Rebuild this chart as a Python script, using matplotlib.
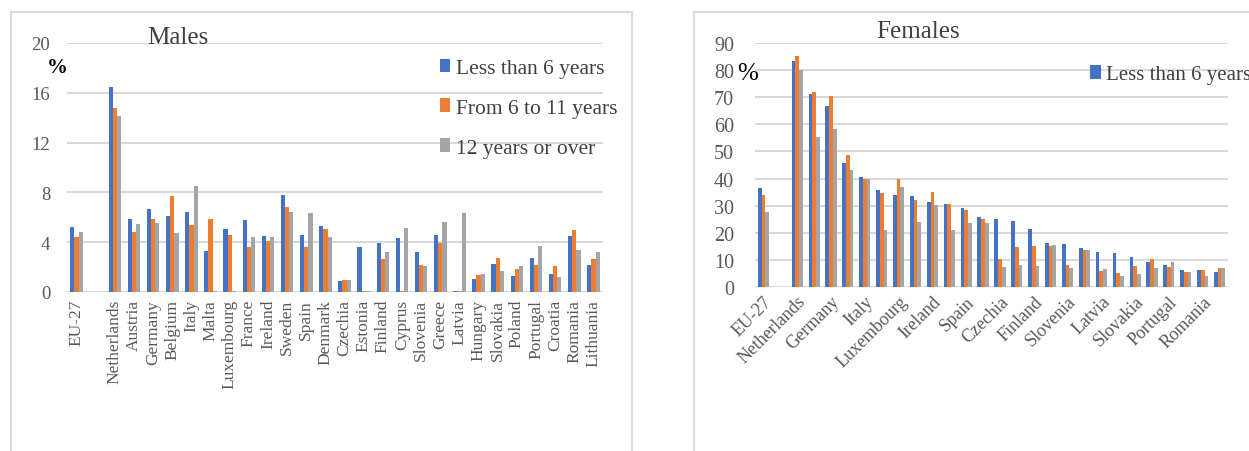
import matplotlib
matplotlib.use("Agg")
import matplotlib.pyplot as plt
import numpy as np
from matplotlib.patches import Rectangle

plt.rcParams['font.family'] = ['Liberation Serif', 'DejaVu Serif']

categories = ["EU-27", "", "Netherlands", "Austria", "Germany", "Belgium", "Italy", "Malta",
              "Luxembourg", "France", "Ireland", "Sweden", "Spain", "Denmark", "Czechia",
              "Estonia", "Finland", "Cyprus", "Slovenia", "Greece", "Latvia", "Hungary",
              "Slovakia", "Poland", "Portugal", "Croatia", "Romania", "Lithuania"]
series = ["Less than 6 years", "From 6 to 11 years", "12 years or over"]

males_lt6 = [5.2, np.nan, 16.5, 5.9, 6.7, 6.1, 6.4, 3.3, 5.1, 5.8, 4.5, 7.8, 4.6, 5.3, 0.85,
             3.6, 3.95, 4.35, 3.25, 4.6, 0.05, 1.07, 2.24, 1.25, 2.72, 1.47, 4.53, 2.16]
males_6to11 = [4.4, np.nan, 14.8, 4.8, 5.9, 7.7, 5.4, 5.9, 4.6, 3.6, 4.1, 6.8, 3.6, 5.1, 0.96,
               0.05, 2.67, 0.05, 2.16, 3.95, 0.05, 1.33, 2.72, 1.87, 2.13, 2.05, 4.96, 2.67]
males_12 = [4.85, np.nan, 14.1, 5.45, 5.55, 4.7, 8.5, 0.05, 0.05, 4.43, 4.43, 6.45, 6.35, 4.43,
            0.96, 0.05, 3.25, 5.15, 2.05, 5.65, 6.35, 1.44, 1.65, 2.05, 3.73, 1.17, 3.36, 3.25]

females_lt6 = [36.5, np.nan, 83.4, 71.1, 66.6, 45.8, 40.4, 35.8, 33.9, 33.7, 31.4, 30.7, 29.2,
               25.9, 25.1, 24.3, 21.4, 16.4, 16.0, 14.4, 12.8, 12.6, 11.1, 9.4, 8.1, 6.4, 6.2, 5.7]
females_6to11 = [33.9, np.nan, 85.1, 72.0, 70.4, 48.8, 39.9, 34.7, 39.8, 32.0, 35.2, 30.5, 28.3,
                 25.2, 10.3, 14.8, 15.1, 15.3, 8.1, 13.7, 5.8, 5.0, 7.8, 10.5, 7.5, 5.5, 6.2, 7.1]
females_12 = [27.5, np.nan, 80.2, 55.5, 58.3, 43.3, 39.8, 21.2, 36.8, 24.0, 30.2, 21.1, 23.5,
              23.5, 7.4, 8.1, 7.6, 15.4, 7.1, 13.7, 6.5, 4.2, 4.7, 6.9, 9.4, 5.5, 4.1, 7.1]

females_tick_labels = [c if i % 2 == 0 else "" for i, c in enumerate(categories)]

colors = ["#4472C4", "#ED7D31", "#A5A5A5"]
grid_c = "#D9D9D9"
tick_c = "#595959"

W, H = 1249, 452
fig = plt.figure(figsize=(W / 100, H / 100), dpi=100)

def fx(px):
    return px / W

def fy(py):
    return 1 - py / H

# panel frames
fig.patches.append(Rectangle((fx(11), fy(470)), fx(632) - fx(11), fy(13) - fy(470),
                             transform=fig.transFigure, fill=False, ec=grid_c, lw=1.5))
fig.patches.append(Rectangle((fx(694), fy(470)), fx(1300) - fx(694), fy(13) - fy(470),
                             transform=fig.transFigure, fill=False, ec=grid_c, lw=1.5))

x = np.arange(len(categories))
bw = 0.22

def draw(ax, data, yticks, ymax):
    handles = []
    for k, (vals, c) in enumerate(zip(data, colors)):
        h = ax.bar(x + (k - 1) * bw, vals, width=bw, color=c, label=series[k], zorder=3)
        handles.append(h)
    ax.set_xlim(-0.5, len(categories) - 0.5)
    ax.set_ylim(0, ymax)
    ax.set_yticks(yticks)
    ax.grid(axis='y', color=grid_c, lw=1.5, zorder=0)
    ax.set_axisbelow(True)
    for s in ax.spines.values():
        s.set_visible(False)
    ax.tick_params(length=0, colors=tick_c)
    return handles

# Males
ax1 = fig.add_axes([fx(67), fy(293), fx(603) - fx(67), fy(44) - fy(293)])
h1 = draw(ax1, [males_lt6, males_6to11, males_12], np.arange(0, 21, 4), 20)
ax1.set_xticks(x)
ax1.set_xticklabels(categories, rotation=90, fontsize=12.5, color=tick_c)
ax1.tick_params(axis='x', pad=5)
ax1.tick_params(axis='y', labelsize=13.5, pad=12)
fig.text(fx(178), fy(38), "Males", fontsize=18, color="#404040", ha='center', va='center')
fig.text(fx(57), fy(68), "%", fontsize=15, fontweight='bold', color='black', ha='center', va='center')
ax1.legend(handles=h1, loc='upper left', bbox_to_anchor=(fx(431), fy(51)),
           bbox_transform=fig.transFigure, frameon=False, fontsize=15.5,
           labelspacing=0.95, handlelength=0.5, handleheight=0.6, handletextpad=0.25,
           labelcolor="#404040", borderaxespad=0)

# Females
ax2 = fig.add_axes([fx(755), fy(288), fx(1228) - fx(755), fy(44) - fy(288)])
h2 = draw(ax2, [females_lt6, females_6to11, females_12], np.arange(0, 91, 10), 90)
ax2.set_xticks(x)
ax2.set_xticklabels(females_tick_labels, rotation=45, ha='right', rotation_mode='anchor',
                    fontsize=13, color=tick_c)
ax2.tick_params(axis='x', pad=4)
ax2.tick_params(axis='y', labelsize=14.5, pad=15)
fig.text(fx(918), fy(32), "Females", fontsize=18, color="#404040", ha='center', va='center')
fig.text(fx(748), fy(74), "%", fontsize=18, color='black', ha='center', va='center')
ax2.legend(handles=[h2[0]], loc='upper left', bbox_to_anchor=(fx(1082), fy(58)),
           bbox_transform=fig.transFigure, frameon=False, fontsize=15,
           handlelength=0.5, handleheight=0.6, handletextpad=0.25,
           labelcolor="#404040", borderaxespad=0)

fig.savefig("out.png", dpi=100)
